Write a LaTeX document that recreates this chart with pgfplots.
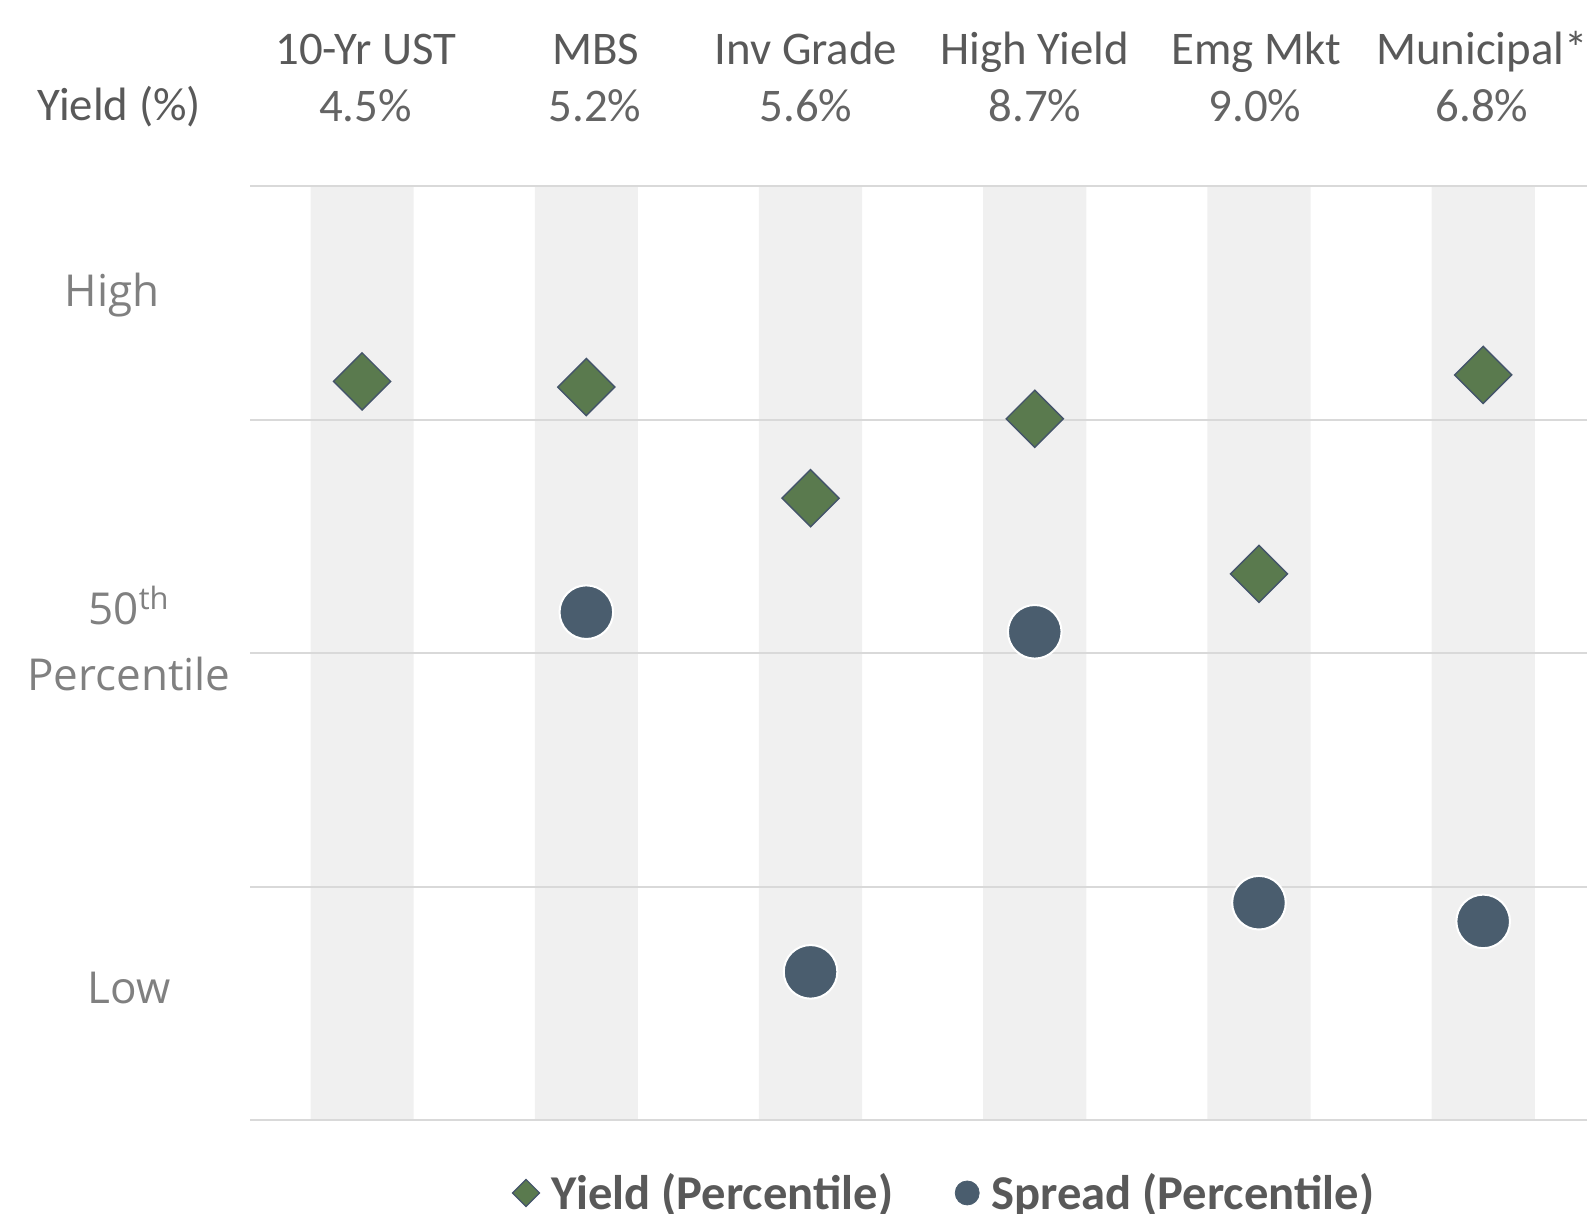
\documentclass[border=0pt]{standalone}
\usepackage{fontspec}
\setmainfont{Carlito}
\newfontfamily\osans{Open Sans}
\usepackage{pgfplots}
\pgfplotsset{compat=1.18}
\definecolor{ygreen}{HTML}{5A7A4E}
\definecolor{slate}{HTML}{44546A}
\definecolor{sdot}{HTML}{4A5D6E}
\definecolor{bandc}{HTML}{F0F0F0}
\definecolor{gridc}{HTML}{D9D9D9}
\definecolor{txt}{HTML}{595959}
\definecolor{txtl}{HTML}{646464}
\definecolor{ylab}{HTML}{808080}
\begin{document}
\begin{tikzpicture}
\path[use as bounding box] (0,0) rectangle (793.5pt,607pt);
\begin{axis}[
  at={(125pt,46.8pt)}, anchor=south west,
  scale only axis, width=668.5pt, height=467.1pt,
  xmin=-0.5, xmax=5.463, ymin=0, ymax=100,
  axis line style={draw=none},
  xtick=\empty, ytick=\empty,
  clip=false,
  legend columns=2,
  legend style={draw=none, fill=none, inner sep=0pt,
    at={(0.196,-0.0777)}, anchor=west,
    font=\fontsize{24.3}{28}\selectfont\bfseries, text=txt,
    nodes={inner sep=0pt},
    /tikz/every odd column/.style={column sep=6pt},
    /tikz/every even column/.style={column sep=31pt},
    /tikz/column 3/.style={column sep=8pt}},
  legend image code/.code={\draw[#1] plot coordinates {(0pt,0pt)};},
]
\addplot[ybar, bar width=0.46, fill=bandc, draw=none, forget plot] coordinates {(0,100)(1,100)(2,100)(3,100)(4,100)(5,100)};
\addplot[gridc, line width=1pt, forget plot] coordinates {(-0.5,0) (5.463,0)};
\addplot[gridc, line width=1pt, forget plot] coordinates {(-0.5,25) (5.463,25)};
\addplot[gridc, line width=1pt, forget plot] coordinates {(-0.5,50) (5.463,50)};
\addplot[gridc, line width=1pt, forget plot] coordinates {(-0.5,75) (5.463,75)};
\addplot[gridc, line width=1pt, forget plot] coordinates {(-0.5,100) (5.463,100)};
% Yield percentile
\addplot[only marks, mark=square*, mark size=10.1pt, forget plot,
  mark options={rotate=45, fill=ygreen, draw=slate, line width=0.7pt}]
  coordinates {(0,79.1) (1,78.5) (2,66.6) (3,75.1) (4,58.5) (5,79.8)};
% Spread percentile
\addplot[only marks, mark=*, mark size=13.4pt, forget plot,
  mark options={fill=sdot, draw=white, line width=1pt}]
  coordinates {(1,54.4) (2,15.9) (3,52.3) (4,23.3) (5,21.3)};
\addlegendimage{only marks, mark=square*, mark size=4.8pt, mark options={rotate=45, fill=ygreen, draw=slate, line width=0.6pt}}
\addlegendentry{Yield (Percentile)}
\addlegendimage{only marks, mark=*, mark size=6pt, mark options={fill=sdot, draw=sdot}}
\addlegendentry{Spread (Percentile)}
\end{axis}
% header
\begin{scope}[every node/.style={anchor=base, inner sep=0pt, font=\fontsize{23.4}{27}\selectfont, text=txt}]
\node at (183pt,574.6pt) {10-Yr UST};
\node at (298pt,574.6pt) {MBS};
\node at (403pt,574.6pt) {Inv Grade};
\node at (517.5pt,574.6pt) {High Yield};
\node at (628pt,574.6pt) {Emg Mkt};
\node at (741pt,574.6pt) {Municipal*};
\node at (59.5pt,546.6pt) {Yield (\%)};
\end{scope}
\begin{scope}[every node/.style={anchor=base, inner sep=0pt, font=\fontsize{23.4}{27}\selectfont, text=txtl}]
\node at (182.7pt,546.3pt) {4.5\%};
\node at (297.5pt,546.3pt) {5.2\%};
\node at (403pt,546.3pt) {5.6\%};
\node at (517.5pt,546.3pt) {8.7\%};
\node at (627.5pt,546.3pt) {9.0\%};
\node at (741pt,546.3pt) {6.8\%};
\end{scope}
% y category labels
\begin{scope}[every node/.style={inner sep=0pt, font=\osans\fontsize{22}{33}\selectfont, text=ylab}]
\node[anchor=base] at (56pt,453.7pt) {High};
\node[anchor=base, align=center] at (64.5pt,261.5pt) {50\textsuperscript{th}\\Percentile};
\node[anchor=base] at (64.5pt,105pt) {Low};
\end{scope}
\end{tikzpicture}
\end{document}
